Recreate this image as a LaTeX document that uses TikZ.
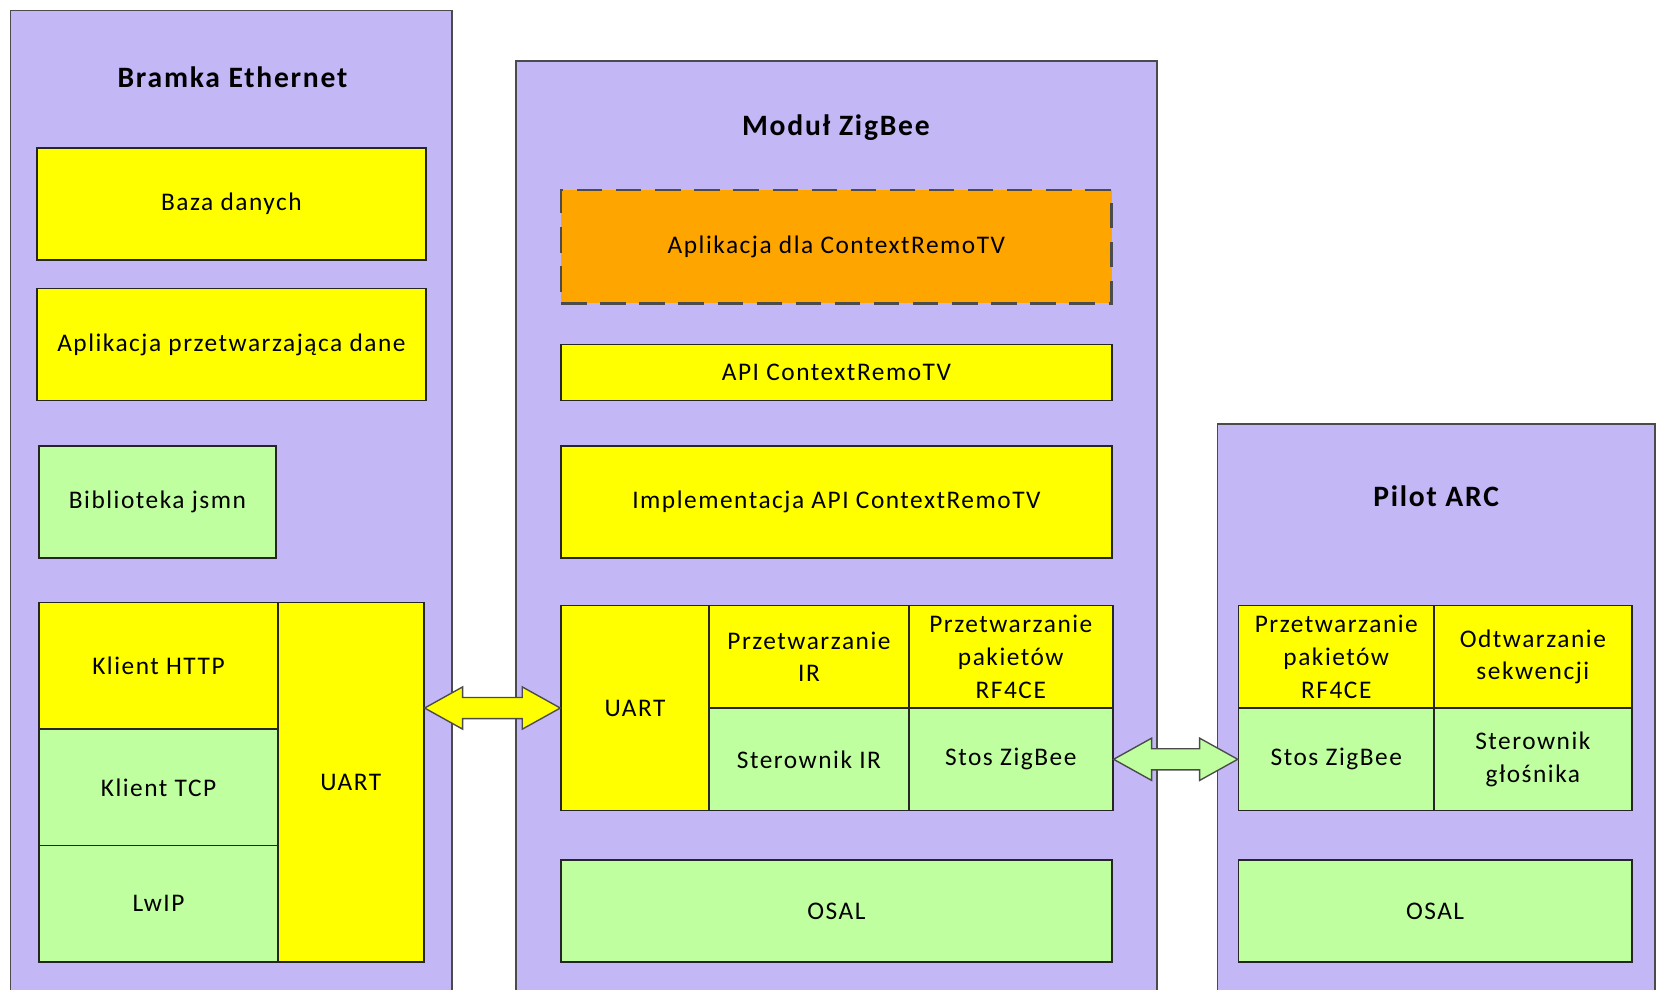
\documentclass[tikz,border=0pt]{standalone}
\usepackage{fontspec}
\setmainfont{Carlito}[LetterSpace=6]
\usepackage{tikz}
\usetikzlibrary{calc}
\definecolor{Lilac}{RGB}{195,183,245}
\definecolor{Lemon}{RGB}{255,255,0}
\definecolor{Mint}{RGB}{192,255,160}
\definecolor{Amber}{RGB}{255,165,0}
\definecolor{Rim}{RGB}{75,75,75}
\newcommand{\Block}[7]{% name style x1 y1 x2 y2 text
\node[#2,minimum width={#5-#3},minimum height={#6-#4}] (#1) at ({(#3+#5)/2},{(#4+#6)/2}) {#7};
}
\newcommand{\DblArrow}[3]{% from to fill
\draw[line width=1.3pt,draw=Rim,fill=#3] (#1) -- ++(36,-20) -- ++(0,10) -- ($(#2)+(-36,-10)$) -- ++(0,-10) -- (#2)
  -- ++(-36,20) -- ++(0,-10) -- ($(#1)+(36,10)$) -- ++(0,10) -- cycle;
}

\begin{document}
\begin{tikzpicture}[x=1pt,y=-1pt,
  box/.style={draw=black!85,line width=1.6pt,inner sep=0pt,align=center,font=\fontsize{24}{31}\selectfont},
  yel/.style={box,fill=Lemon},
  grn/.style={box,fill=Mint},
  app/.style={box,fill=Amber,dash pattern=on 24pt off 13pt,line width=2.4pt,draw=black!70},
  frame/.style={draw=Rim,line width=1.6pt,fill=Lilac,inner sep=0pt},
  title/.style={font=\fontsize{28}{32}\selectfont\bfseries}]
\useasboundingbox (0,0) rectangle (1568,936);
% Bramka Ethernet
\Block{eth}{frame}{10}{10}{428}{960}{}
\node[title] (ethT) at (220,73) {Bramka Ethernet};
\Block{ethBaza}{yel}{35}{140}{403}{246}{Baza danych}
\Block{ethApp}{yel}{35}{273}{403}{379}{Aplikacja przetwarzająca dane}
\Block{ethJsmn}{grn}{37}{422}{261}{528}{Biblioteka jsmn}
\Block{ethHttp}{yel}{37}{570}{263}{690}{Klient HTTP}
\Block{ethTcp}{grn}{37}{690}{263}{800}{Klient TCP}
\Block{ethLwip}{grn}{37}{800}{263}{910}{LwIP}
\Block{ethUart}{yel}{263}{570}{401}{910}{UART}
% Modul ZigBee
\Block{zb}{frame}{488}{58}{1095}{960}{}
\node[title] (zbT) at (791,121) {Moduł ZigBee};
\Block{zbApp}{app}{531}{180}{1052}{287}{Aplikacja dla ContextRemoTV}
\Block{zbApi}{yel}{531}{326}{1052}{379}{API ContextRemoTV}
\Block{zbImpl}{yel}{531}{422}{1052}{528}{Implementacja API ContextRemoTV}
\Block{zbUart}{yel}{531}{573}{671}{767}{UART}
\Block{zbIr}{yel}{671}{573}{860}{670}{Przetwarzanie\\IR}
\Block{zbRf}{yel}{860}{573}{1053}{670}{Przetwarzanie\\pakietów\\RF4CE}
\Block{zbSterIr}{grn}{671}{670}{860}{767}{Sterownik IR}
\Block{zbStos}{grn}{860}{670}{1053}{767}{Stos ZigBee}
\Block{zbOsal}{grn}{531}{814}{1052}{910}{OSAL}
% Pilot ARC
\Block{arc}{frame}{1152}{401}{1566}{960}{}
\node[title] (arcT) at (1359,470) {Pilot ARC};
\Block{arcRf}{yel}{1172}{573}{1357}{670}{Przetwarzanie\\pakietów\\RF4CE}
\Block{arcSeq}{yel}{1357}{573}{1544}{670}{Odtwarzanie\\sekwencji}
\Block{arcStos}{grn}{1172}{670}{1357}{767}{Stos ZigBee}
\Block{arcSpk}{grn}{1357}{670}{1544}{767}{Sterownik\\głośnika}
\Block{arcOsal}{grn}{1172}{814}{1544}{910}{OSAL}
% links
\coordinate (ethPort) at (ethUart.east |- zbUart.west);
\DblArrow{ethPort}{zbUart.west}{Lemon}
\DblArrow{zbStos.east}{arcStos.west}{Mint}
\end{tikzpicture}
\end{document}
